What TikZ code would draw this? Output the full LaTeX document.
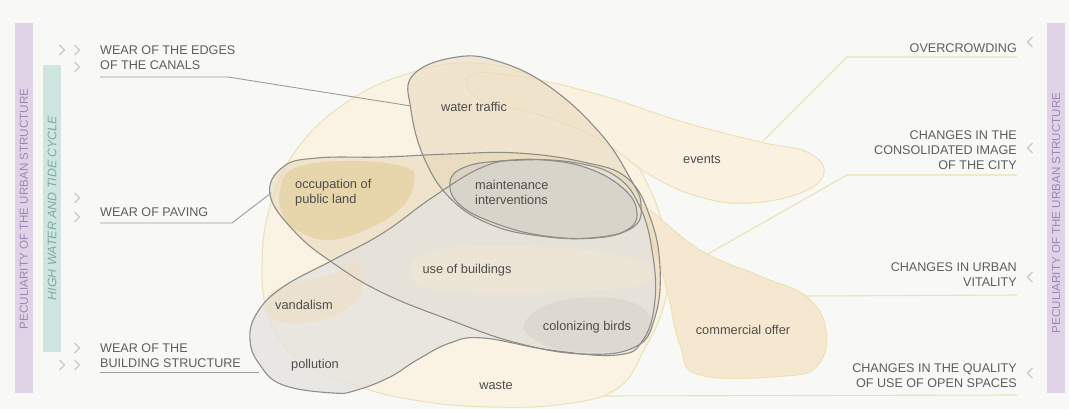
\documentclass[tikz,border=0pt]{standalone}
\usepackage{fontspec}
\setmainfont{Liberation Sans}
\definecolor{bg}{HTML}{F8F8F6}
\definecolor{pbar}{HTML}{E0D3E8}
\definecolor{ptext}{HTML}{9F87B3}
\definecolor{tbar}{HTML}{CFE5E0}
\definecolor{ttext}{HTML}{7FAAA2}
\definecolor{ylin}{HTML}{EBE2B6}
\definecolor{glin}{HTML}{8E8D89}
\definecolor{txt}{HTML}{4E4E4C}
\definecolor{capc}{HTML}{5E5E5E}
\definecolor{chev}{HTML}{CACACA}
\definecolor{uline}{HTML}{9C9C9C}
\definecolor{cwaste}{HTML}{FAF2E3}
\definecolor{cevents}{HTML}{FAF1E0}
\definecolor{ccomm}{HTML}{F6E8D0}
\definecolor{cwater}{HTML}{EADBC0}
\definecolor{cgone}{HTML}{E6D7B8}
\definecolor{cgtwo}{HTML}{E4E2DE}
\definecolor{coccup}{HTML}{E3CC96}
\definecolor{cuse}{HTML}{EEE6D4}
\definecolor{cbirds}{HTML}{D8D4CC}
\definecolor{cvand}{HTML}{EDE0CB}
\definecolor{cmaint}{HTML}{D5D0C6}
\begin{document}
\begin{tikzpicture}[x=1pt,y=-1pt,
  blobline/.style={draw=glin, line width=1.1pt},
  yblob/.style={draw=ylin, line width=1pt},
  lbl/.style={font=\fontsize{12.8}{15}\selectfont, text=txt, inner sep=0pt, align=left},
  caplbl/.style={font=\fontsize{12.6}{15}\selectfont, text=capc, inner sep=0pt},
  chevron/.style={draw=chev, line width=1.3pt},
  gconn/.style={draw=uline, line width=0.9pt},
  yconn/.style={draw=ylin, line width=1.1pt},
  barlbl/.style={font=\fontsize{11.6}{14}\selectfont, inner sep=0pt, rotate=90}]
\useasboundingbox (0,0) rectangle (1069,409);
\fill[bg] (0,0) rectangle (1069,409);

% side bars
\fill[pbar] (15,23) rectangle (33,393);
\node[barlbl, text=ptext] (pl) at (24,209) {PECULIARITY OF THE URBAN STRUCTURE};
\fill[tbar] (43,65) rectangle (61,352);
\node[barlbl, text=ttext, font=\fontsize{12.4}{15}\selectfont\itshape] (hw) at (52,208) {HIGH WATER AND TIDE CYCLE};
\fill[pbar] (1047,23) rectangle (1065,393);
\node[barlbl, text=ptext] (pr) at (1056,213) {PECULIARITY OF THE URBAN STRUCTURE};

% blobs: fills
\filldraw[yblob, fill=cwaste] plot[smooth cycle, tension=0.7] coordinates {(410,73) (470,63) (530,76) (600,118) (648,185) (668,255) (664,305) (645,348) (618,388) (565,404) (490,407) (420,401) (360,387) (302,362) (270,320) (262,262) (272,200) (300,145) (350,100)};
\filldraw[yblob, fill=cevents] plot[smooth cycle, tension=0.7] coordinates {(470,75) (523,77) (600,95) (683,122) (760,142) (807,152) (824,172) (803,192) (750,203) (700,197) (650,175) (600,140) (540,115) (480,100)};
\filldraw[yblob, fill=ccomm] plot[smooth cycle, tension=0.7] coordinates {(640,205) (700,250) (760,276) (807,297) (826,330) (818,365) (785,376) (700,375) (680,345) (667,290) (655,250)};
\fill[cwater, fill opacity=0.6] plot[smooth cycle, tension=0.7] coordinates {(457,57) (500,62) (550,87) (600,133) (630,178) (641,205) (632,228) (590,238) (540,236) (492,225) (452,200) (425,160) (411,110) (413,75)};
\fill[cgone, fill opacity=0.55] plot[smooth cycle, tension=0.7] coordinates {(270,195) (283,167) (317,158) (383,157) (450,154) (517,153) (583,162) (627,178) (650,217) (660,267) (655,317) (635,347) (583,354) (517,343) (450,320) (383,293) (333,263) (295,232)};
\fill[cgtwo, fill opacity=0.75] plot[smooth cycle, tension=0.7] coordinates {(333,393) (283,385) (260,365) (250,340) (257,313) (283,287) (333,260) (383,233) (433,197) (483,167) (523,160) (577,163) (617,177) (640,207) (652,250) (655,300) (643,340) (617,355) (550,350) (483,338) (450,343) (417,360) (390,377) (357,390)};
\fill[coccup, fill opacity=0.6] plot[smooth cycle, tension=0.7] coordinates {(280,190) (295,168) (350,161) (405,167) (414,182) (402,207) (370,228) (330,240) (300,232) (283,215)};
\fill[cuse, fill opacity=0.8] plot[smooth cycle, tension=0.7] coordinates {(410,270) (430,252) (480,246) (560,248) (620,255) (650,268) (640,285) (580,291) (500,293) (430,289)};
\fill[cbirds, fill opacity=0.6] plot[smooth cycle, tension=0.7] coordinates {(525,322) (555,302) (610,298) (645,310) (650,335) (625,350) (570,351) (535,340)};
\fill[cvand, fill opacity=0.8] plot[smooth cycle, tension=0.7] coordinates {(265,302) (285,285) (330,275) (357,262) (362,290) (345,310) (310,322) (275,320)};
\fill[cmaint, fill opacity=0.7] plot[smooth cycle, tension=0.7] coordinates {(450,182) (465,167) (500,161) (545,160) (590,169) (625,190) (637,213) (627,230) (595,238) (545,236) (497,224) (460,205)};

% blobs: outlines
\draw[blobline] plot[smooth cycle, tension=0.7] coordinates {(457,57) (500,62) (550,87) (600,133) (630,178) (641,205) (632,228) (590,238) (540,236) (492,225) (452,200) (425,160) (411,110) (413,75)};
\draw[blobline] plot[smooth cycle, tension=0.7] coordinates {(270,195) (283,167) (317,158) (383,157) (450,154) (517,153) (583,162) (627,178) (650,217) (660,267) (655,317) (635,347) (583,354) (517,343) (450,320) (383,293) (333,263) (295,232)};
\draw[blobline] plot[smooth cycle, tension=0.7] coordinates {(333,393) (283,385) (260,365) (250,340) (257,313) (283,287) (333,260) (383,233) (433,197) (483,167) (523,160) (577,163) (617,177) (640,207) (652,250) (655,300) (643,340) (617,355) (550,350) (483,338) (450,343) (417,360) (390,377) (357,390)};
\draw[blobline] plot[smooth cycle, tension=0.7] coordinates {(450,182) (465,167) (500,161) (545,160) (590,169) (625,190) (637,213) (627,230) (595,238) (545,236) (497,224) (460,205)};

% blob labels
\node[lbl] (wt) at (474,107) {water traffic};
\node[lbl, anchor=west] (oc) at (295,192.5) {occupation of\\public land};
\node[lbl, anchor=west] (mi) at (475,192.5) {maintenance\\interventions};
\node[lbl] (ub) at (467,270) {use of buildings};
\node[lbl] (va) at (304,305) {vandalism};
\node[lbl] (cb) at (587,327) {colonizing birds};
\node[lbl] (po) at (315,365) {pollution};
\node[lbl] (ws) at (496,385) {waste};
\node[lbl] (ev) at (702,159) {events};
\node[lbl] (co) at (743,330) {commercial offer};

% left labels
\node[caplbl, anchor=west, align=left] (le) at (100,57.5) {WEAR OF THE EDGES\\OF THE CANALS};
\node[caplbl, anchor=west, align=left] (lp) at (100,212) {WEAR OF PAVING};
\node[caplbl, anchor=west, align=left] (lb) at (100,355.5) {WEAR OF THE\\BUILDING STRUCTURE};
% right labels
\node[caplbl, anchor=east, align=right] (ro) at (1017,48) {OVERCROWDING};
\node[caplbl, anchor=east, align=right] (rc) at (1017,150) {CHANGES IN THE\\CONSOLIDATED IMAGE\\OF THE CITY};
\node[caplbl, anchor=east, align=right] (rv) at (1017,275) {CHANGES IN URBAN\\VITALITY};
\node[caplbl, anchor=east, align=right] (rq) at (1017,375.5) {CHANGES IN THE QUALITY\\OF USE OF OPEN SPACES};

% connector end points
\coordinate (leS) at (100,77);
\coordinate (wtE) at (411,106);
\coordinate (lpS) at (100,223);
\coordinate (ocE) at (271,193);
\coordinate (lbS) at (100,372);
\coordinate (poE) at (259,372);
\coordinate (roS) at (1017,57);
\coordinate (evE) at (763,141);
\coordinate (rcS) at (1017,175);
\coordinate (coE) at (706,255);
\coordinate (rvS) at (1017,295);
\coordinate (coE2) at (805,296);
\coordinate (rqS) at (1017,395);
\coordinate (wsE) at (603,396);

\draw[gconn] (leS) -- (228,77) -- (wtE);
\draw[gconn] (lpS) -- (232,223) -- (ocE);
\draw[gconn] (lbS) -- (poE);
\draw[yconn] (roS) -- (847,57) -- (evE);
\draw[yconn] (rcS) -- (847,175) -- (coE);
\draw[yconn] (rvS) -- (coE2);
\draw[yconn] (rqS) -- (wsE);

% chevrons
\foreach \cx/\cy in {62/50, 77/50, 77/67, 77/198, 77/217, 77/348, 62/365, 77/365}
  \draw[chevron] (\cx-2.5,\cy-5) -- (\cx+2.5,\cy) -- (\cx-2.5,\cy+5);
\foreach \cy in {42,148,277,373}
  \draw[chevron] (1032.5,\cy-5) -- (1027.5,\cy) -- (1032.5,\cy+5);
\end{tikzpicture}
\end{document}
